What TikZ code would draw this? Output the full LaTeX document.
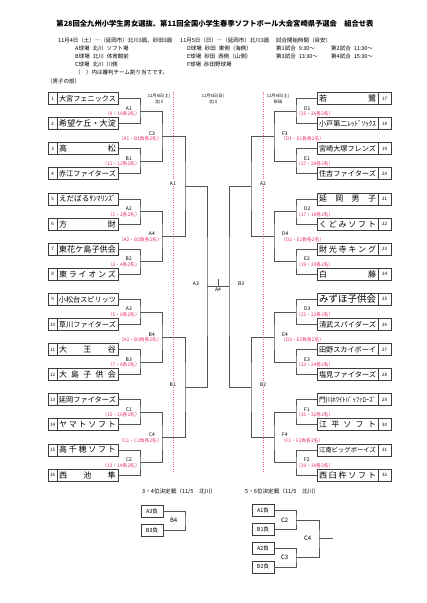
\documentclass[tikz,border=0pt]{standalone}
\usepackage{fontspec}
\setmainfont{Noto Sans CJK JP}
\usepackage{graphicx}
\usetikzlibrary{positioning}
\definecolor{ktRed}{RGB}{228,45,95}
\definecolor{ktDot}{RGB}{240,90,130}
\definecolor{ktGray}{RGB}{60,60,60}
\definecolor{ktLine}{RGB}{85,85,85}

\newcommand{\fitnm}[1]{\resizebox{57pt}{!}{#1}}
\newcommand{\spreadnm}[1]{\makebox[57pt][s]{#1}}
\newcommand{\gap}{\hspace{3pt}}

\begin{document}
\begin{tikzpicture}[
    x=1pt, y=-1pt,
    team/.style={rectangle, draw=ktGray, line width=0.8pt, minimum width=61pt, minimum height=12pt, inner sep=0pt, outer sep=0pt, font=\fontsize{8}{8}\selectfont},
    num/.style={rectangle, draw=ktGray, line width=0.8pt, minimum width=9pt, minimum height=12pt, inner sep=0pt, outer sep=0pt, font=\fontsize{4.5}{4.5}\selectfont},
    lose/.style={rectangle, draw=ktGray, line width=0.8pt, minimum width=22pt, minimum height=12pt, inner sep=0pt, outer sep=0pt, font=\fontsize{5.5}{5.5}\selectfont},
    link/.style={draw=ktLine, line width=0.7pt},
    sep/.style={draw=ktDot, line width=0.6pt, dash pattern=on 1pt off 1.4pt},
    mlbl/.style={inner sep=0pt, font=\fontsize{5}{5}\selectfont},
    rlbl/.style={inner sep=0pt, text=ktRed, font=\fontsize{4.8}{4.8}\selectfont},
    blbl/.style={inner sep=0pt, font=\fontsize{6}{6}\selectfont},
    info/.style={anchor=west, inner sep=0pt, font=\fontsize{5.5}{5.5}\selectfont},
    dlbl/.style={inner sep=0pt, font=\fontsize{4.2}{4.2}\selectfont}
]
  \useasboundingbox (0,0) rectangle (427,603);

  % heading
  \node[inner sep=0pt, font=\fontsize{7.3}{7.3}\selectfont\bfseries] (title) at (215,24) {第28回全九州小学生男女選抜、第11回全国小学生春季ソフトボール大会宮崎県予選会　組合せ表};
  \node[info] (i1) at (58,40) {11月4日（土）―（延岡市）北川3面、砂田3面};
  \node[info] (i2) at (180,40) {11月5日（日）―（延岡市）北川3面};
  \node[info] (i3) at (276,40) {試合開始時間（目安）};
  \node[info] (i4) at (75,48) {A球場\gap 北川\gap ソフト場};
  \node[info] (i5) at (187,48) {D球場\gap 砂田\gap 東側（海側）};
  \node[info] (i6) at (276,48) {第1試合\gap 9:30〜};
  \node[info] (i7) at (331,48) {第2試合\gap 11:30〜};
  \node[info] (i8) at (75,56) {B球場\gap 北川\gap 体育館前};
  \node[info] (i9) at (187,56) {E球場\gap 砂田\gap 西側（山側）};
  \node[info] (i10) at (276,56) {第3試合\gap 13:30〜};
  \node[info] (i11) at (331,56) {第4試合\gap 15:30〜};
  \node[info] (i12) at (75,64) {C球場\gap 北川\gap 川側};
  \node[info] (i13) at (187,64) {F球場\gap 砂田野球場};
  \node[info] (i14) at (75,72) {（　）内は審判チーム割り当てです。};
  \node[info] (i15) at (47,81) {（男子の部）};

  \node[dlbl] (d1) at (159,96) {11月4日(土)};
  \node[dlbl] (d1b) at (159,102) {北川};
  \node[dlbl] (d2) at (213,96) {11月5日(日)};
  \node[dlbl] (d2b) at (213,102) {北川};
  \node[dlbl] (d3) at (278,96) {11月4日(土)};
  \node[dlbl] (d3b) at (278,102) {砂田};

  \draw[sep] (173,92) -- (173,472);
  \draw[sep] (263,92) -- (263,472);

  % left teams
  \node[num] (n1) at (52.5,98.5) {1};   \node[team, right=0pt of n1] (t1) {\fitnm{大宮フェニックス}};
  \node[num] (n2) at (52.5,123.6) {2};  \node[team, right=0pt of n2] (t2) {\fitnm{希望ケ丘・大淀}};
  \node[num] (n3) at (52.5,148.7) {3};  \node[team, right=0pt of n3] (t3) {\spreadnm{高\hfill 松}};
  \node[num] (n4) at (52.5,173.8) {4};  \node[team, right=0pt of n4] (t4) {\fitnm{赤江ファイターズ}};
  \node[num] (n5) at (52.5,198.9) {5};  \node[team, right=0pt of n5] (t5) {\fitnm{えだばるｻﾝﾏﾘﾝｽﾞ}};
  \node[num] (n6) at (52.5,224.0) {6};  \node[team, right=0pt of n6] (t6) {\spreadnm{方\hfill 財}};
  \node[num] (n7) at (52.5,249.1) {7};  \node[team, right=0pt of n7] (t7) {\fitnm{東花ケ島子供会}};
  \node[num] (n8) at (52.5,274.2) {8};  \node[team, right=0pt of n8] (t8) {\spreadnm{東\hfill ラ\hfill イ\hfill オ\hfill ン\hfill ズ}};
  \node[num] (n9) at (52.5,299.3) {9};  \node[team, right=0pt of n9] (t9) {\fitnm{小松台スピリッツ}};
  \node[num] (n10) at (52.5,324.4) {10}; \node[team, right=0pt of n10] (t10) {\fitnm{草川ファイターズ}};
  \node[num] (n11) at (52.5,349.5) {11}; \node[team, right=0pt of n11] (t11) {\spreadnm{大\hfill 王\hfill 谷}};
  \node[num] (n12) at (52.5,374.6) {12}; \node[team, right=0pt of n12] (t12) {\spreadnm{大\hfill 島\hfill 子\hfill 供\hfill 会}};
  \node[num] (n13) at (52.5,399.7) {13}; \node[team, right=0pt of n13] (t13) {\fitnm{延岡ファイターズ}};
  \node[num] (n14) at (52.5,424.8) {14}; \node[team, right=0pt of n14] (t14) {\spreadnm{ヤ\hfill マ\hfill ト\hfill ソ\hfill フ\hfill ト}};
  \node[num] (n15) at (52.5,449.9) {15}; \node[team, right=0pt of n15] (t15) {\spreadnm{高\hfill 千\hfill 穂\hfill ソ\hfill フ\hfill ト}};
  \node[num] (n16) at (52.5,475.0) {16}; \node[team, right=0pt of n16] (t16) {\spreadnm{西\hfill 池\hfill 隼}};

  % right teams
  \node[team] (t17) at (347.5,98.5) {\spreadnm{若\hfill 鷺}};                      \node[num, minimum width=13pt, right=0pt of t17] (n17) {17};
  \node[team] (t18) at (347.5,123.6) {\fitnm{小戸第二ﾚｯﾄﾞｿｯｸｽ}};                   \node[num, minimum width=13pt, right=0pt of t18] (n18) {18};
  \node[team] (t19) at (347.5,148.7) {\fitnm{宮崎大塚フレンズ}};                     \node[num, minimum width=13pt, right=0pt of t19] (n19) {19};
  \node[team] (t20) at (347.5,173.8) {\fitnm{住吉ファイターズ}};                     \node[num, minimum width=13pt, right=0pt of t20] (n20) {20};
  \node[team] (t21) at (347.5,198.9) {\spreadnm{延\hfill 岡\hfill 男\hfill 子}};    \node[num, minimum width=13pt, right=0pt of t21] (n21) {21};
  \node[team] (t22) at (347.5,224.0) {\spreadnm{く\hfill ど\hfill み\hfill ソ\hfill フ\hfill ト}}; \node[num, minimum width=13pt, right=0pt of t22] (n22) {22};
  \node[team] (t23) at (347.5,249.1) {\spreadnm{財\hfill 光\hfill 寺\hfill キ\hfill ン\hfill グ}}; \node[num, minimum width=13pt, right=0pt of t23] (n23) {23};
  \node[team] (t24) at (347.5,274.2) {\spreadnm{白\hfill 藤}};                      \node[num, minimum width=13pt, right=0pt of t24] (n24) {24};
  \node[team] (t25) at (347.5,299.3) {\fitnm{みずほ子供会}};                         \node[num, minimum width=13pt, right=0pt of t25] (n25) {25};
  \node[team] (t26) at (347.5,324.4) {\fitnm{清武スパイダーズ}};                     \node[num, minimum width=13pt, right=0pt of t26] (n26) {26};
  \node[team] (t27) at (347.5,349.5) {\fitnm{田野スカイボーイ}};                     \node[num, minimum width=13pt, right=0pt of t27] (n27) {27};
  \node[team] (t28) at (347.5,374.6) {\fitnm{塩見ファイターズ}};                     \node[num, minimum width=13pt, right=0pt of t28] (n28) {28};
  \node[team] (t29) at (347.5,399.7) {\fitnm{門川ﾎﾜｲﾄﾊﾞｯﾌｧﾛｰｽﾞ}};                  \node[num, minimum width=13pt, right=0pt of t29] (n29) {29};
  \node[team] (t30) at (347.5,424.8) {\spreadnm{江\hfill 平\hfill ソ\hfill フ\hfill ト}}; \node[num, minimum width=13pt, right=0pt of t30] (n30) {30};
  \node[team] (t31) at (347.5,449.9) {\fitnm{江南ビッグボーイズ}};                   \node[num, minimum width=13pt, right=0pt of t31] (n31) {31};
  \node[team] (t32) at (347.5,475.0) {\spreadnm{西\hfill 臼\hfill 杵\hfill ソ\hfill フ\hfill ト}}; \node[num, minimum width=13pt, right=0pt of t32] (n32) {32};

  % match points
  \coordinate (l11) at (140,111.05);  \coordinate (l12) at (140,161.25);
  \coordinate (l13) at (140,211.45);  \coordinate (l14) at (140,261.65);
  \coordinate (l15) at (140,311.85);  \coordinate (l16) at (140,362.05);
  \coordinate (l17) at (140,412.25);  \coordinate (l18) at (140,462.45);
  \coordinate (l21) at (162,136.15);  \coordinate (l22) at (162,236.55);
  \coordinate (l23) at (162,336.95);  \coordinate (l24) at (162,437.35);
  \coordinate (l31) at (185,186.35);  \coordinate (l32) at (185,387.15);
  \coordinate (r11) at (296,111.05);  \coordinate (r12) at (296,161.25);
  \coordinate (r13) at (296,211.45);  \coordinate (r14) at (296,261.65);
  \coordinate (r15) at (296,311.85);  \coordinate (r16) at (296,362.05);
  \coordinate (r17) at (296,412.25);  \coordinate (r18) at (296,462.45);
  \coordinate (r21) at (274,136.15);  \coordinate (r22) at (274,236.55);
  \coordinate (r23) at (274,336.95);  \coordinate (r24) at (274,437.35);
  \coordinate (r31) at (251,186.35);  \coordinate (r32) at (251,387.15);
  \coordinate (c31) at (207,286.75);  \coordinate (c32) at (229,286.75);
  \coordinate (fin) at (218,286.75);  \coordinate (fintop) at (218,279);

  % bracket lines
  \draw[link] (t1.east) -| (l11) |- (t2.east);
  \draw[link] (t3.east) -| (l12) |- (t4.east);
  \draw[link] (t5.east) -| (l13) |- (t6.east);
  \draw[link] (t7.east) -| (l14) |- (t8.east);
  \draw[link] (t9.east) -| (l15) |- (t10.east);
  \draw[link] (t11.east) -| (l16) |- (t12.east);
  \draw[link] (t13.east) -| (l17) |- (t14.east);
  \draw[link] (t15.east) -| (l18) |- (t16.east);
  \draw[link] (l11) -| (l21) |- (l12);
  \draw[link] (l13) -| (l22) |- (l14);
  \draw[link] (l15) -| (l23) |- (l16);
  \draw[link] (l17) -| (l24) |- (l18);
  \draw[link] (l21) -| (l31) |- (l22);
  \draw[link] (l23) -| (l32) |- (l24);
  \draw[link] (t17.west) -| (r11) |- (t18.west);
  \draw[link] (t19.west) -| (r12) |- (t20.west);
  \draw[link] (t21.west) -| (r13) |- (t22.west);
  \draw[link] (t23.west) -| (r14) |- (t24.west);
  \draw[link] (t25.west) -| (r15) |- (t26.west);
  \draw[link] (t27.west) -| (r16) |- (t28.west);
  \draw[link] (t29.west) -| (r17) |- (t30.west);
  \draw[link] (t31.west) -| (r18) |- (t32.west);
  \draw[link] (r11) -| (r21) |- (r12);
  \draw[link] (r13) -| (r22) |- (r14);
  \draw[link] (r15) -| (r23) |- (r16);
  \draw[link] (r17) -| (r24) |- (r18);
  \draw[link] (r21) -| (r31) |- (r22);
  \draw[link] (r23) -| (r32) |- (r24);
  \draw[link] (l31) -| (c31) |- (l32);
  \draw[link] (r31) -| (c32) |- (r32);
  \draw[link] (c31) -- (c32);
  \draw[link] (fintop) -- (fin);

  % left labels
  \node[mlbl, above left=0.6pt and 8pt of l11] (ml11) {A1};
  \node[rlbl, below left=0.4pt and 0pt of l11] (rl11) {（9・10各2名）};
  \node[mlbl, above left=0.6pt and 8pt of l12] (ml12) {B1};
  \node[rlbl, below left=0.4pt and 0pt of l12] (rl12) {（11・12各2名）};
  \node[mlbl, above left=0.6pt and 8pt of l13] (ml13) {A2};
  \node[rlbl, below left=0.4pt and 0pt of l13] (rl13) {（1・2各2名）};
  \node[mlbl, above left=0.6pt and 8pt of l14] (ml14) {B2};
  \node[rlbl, below left=0.4pt and 0pt of l14] (rl14) {（3・4各2名）};
  \node[mlbl, above left=0.6pt and 8pt of l15] (ml15) {A3};
  \node[rlbl, below left=0.4pt and 0pt of l15] (rl15) {（5・6各2名）};
  \node[mlbl, above left=0.6pt and 8pt of l16] (ml16) {B3};
  \node[rlbl, below left=0.4pt and 0pt of l16] (rl16) {（7・8各2名）};
  \node[mlbl, above left=0.6pt and 8pt of l17] (ml17) {C1};
  \node[rlbl, below left=0.4pt and 0pt of l17] (rl17) {（15・16各2名）};
  \node[mlbl, above left=0.6pt and 8pt of l18] (ml18) {C2};
  \node[rlbl, below left=0.4pt and 0pt of l18] (rl18) {（13・14各2名）};
  \node[mlbl, above left=0.6pt and 7pt of l21] (ml21) {C3};
  \node[rlbl, below left=0.4pt and 0pt of l21] (rl21) {（A1・B1負各2名）};
  \node[mlbl, above left=0.6pt and 7pt of l22] (ml22) {A4};
  \node[rlbl, below left=0.4pt and 0pt of l22] (rl22) {（A2・B2負各2名）};
  \node[mlbl, above left=0.6pt and 7pt of l23] (ml23) {B4};
  \node[rlbl, below left=0.4pt and 0pt of l23] (rl23) {（A3・B3負各2名）};
  \node[mlbl, above left=0.6pt and 7pt of l24] (ml24) {C4};
  \node[rlbl, below left=0.4pt and 0pt of l24] (rl24) {（C1・C2負各2名）};
  \node[mlbl, fill=white, inner sep=0.5pt, above left=0.3pt and 8.5pt of l31] (ml31) {A1};
  \node[mlbl, fill=white, inner sep=0.5pt, above left=0.3pt and 8.5pt of l32] (ml32) {B1};

  % right labels
  \node[mlbl, above right=0.6pt and 8pt of r11] (mr11) {D1};
  \node[rlbl, below right=0.4pt and 0pt of r11] (rr11) {（25・26各2名）};
  \node[mlbl, above right=0.6pt and 8pt of r12] (mr12) {E1};
  \node[rlbl, below right=0.4pt and 0pt of r12] (rr12) {（27・28各2名）};
  \node[mlbl, above right=0.6pt and 8pt of r13] (mr13) {D2};
  \node[rlbl, below right=0.4pt and 0pt of r13] (rr13) {（17・18各2名）};
  \node[mlbl, above right=0.6pt and 8pt of r14] (mr14) {E2};
  \node[rlbl, below right=0.4pt and 0pt of r14] (rr14) {（19・20各2名）};
  \node[mlbl, above right=0.6pt and 8pt of r15] (mr15) {D3};
  \node[rlbl, below right=0.4pt and 0pt of r15] (rr15) {（21・22各2名）};
  \node[mlbl, above right=0.6pt and 8pt of r16] (mr16) {E3};
  \node[rlbl, below right=0.4pt and 0pt of r16] (rr16) {（23・24各2名）};
  \node[mlbl, above right=0.6pt and 8pt of r17] (mr17) {F1};
  \node[rlbl, below right=0.4pt and 0pt of r17] (rr17) {（31・32各2名）};
  \node[mlbl, above right=0.6pt and 8pt of r18] (mr18) {F2};
  \node[rlbl, below right=0.4pt and 0pt of r18] (rr18) {（29・30各2名）};
  \node[mlbl, above right=0.6pt and 8pt of r21] (mr21) {F3};
  \node[rlbl, below right=0.4pt and 7pt of r21] (rr21) {（D1・E1負各2名）};
  \node[mlbl, above right=0.6pt and 8pt of r22] (mr22) {D4};
  \node[rlbl, below right=0.4pt and 7pt of r22] (rr22) {（D2・E2負各2名）};
  \node[mlbl, above right=0.6pt and 8pt of r23] (mr23) {E4};
  \node[rlbl, below right=0.4pt and 7pt of r23] (rr23) {（D3・E3負各2名）};
  \node[mlbl, above right=0.6pt and 8pt of r24] (mr24) {F4};
  \node[rlbl, below right=0.4pt and 7pt of r24] (rr24) {（F1・F2負各2名）};
  \node[mlbl, fill=white, inner sep=0.5pt, above right=0.3pt and 8.5pt of r31] (mr31) {A2};
  \node[mlbl, fill=white, inner sep=0.5pt, above right=0.3pt and 8.5pt of r32] (mr32) {B2};

  % center
  \node[mlbl, above left=0.6pt and 8pt of c31] (mc31) {A3};
  \node[mlbl, above right=0.6pt and 9pt of c32] (mc32) {B3};
  \node[mlbl, below=1.2pt of fin] (mfin) {A4};

  % placing matches
  \node[info, font=\fontsize{5.6}{5.6}\selectfont] (h34) at (142,492) {3・4位決定戦（11/5　北川）};
  \node[info, font=\fontsize{5.6}{5.6}\selectfont] (h56) at (245,492) {5・6位決定戦（11/5　北川）};

  \node[lose] (a3l) at (152,511.5) {A3負};
  \node[lose] (b3l) at (152,530) {B3負};
  \coordinate (p34) at (185,520.75);
  \draw[link] (a3l) -| (p34) |- (b3l);
  \node[blbl, left=7.5pt of p34] (m34) {B4};

  \node[lose] (a1l) at (263,510.5) {A1負};
  \node[lose] (b1l) at (263,529.3) {B1負};
  \node[lose] (a2l) at (263,548.1) {A2負};
  \node[lose] (b2l) at (263,566.9) {B2負};
  \coordinate (p56a) at (296,519.9);
  \coordinate (p56b) at (296,557.5);
  \coordinate (p56) at (319,538.7);
  \coordinate (p56end) at (333,538.7);
  \draw[link] (a1l) -| (p56a) |- (b1l);
  \draw[link] (a2l) -| (p56b) |- (b2l);
  \draw[link] (p56a) -| (p56) |- (p56b);
  \draw[link] (p56) -- (p56end);
  \node[blbl, left=7.5pt of p56a] (m56a) {C2};
  \node[blbl, left=7.5pt of p56b] (m56b) {C3};
  \node[blbl, left=7.5pt of p56] (m56) {C4};
\end{tikzpicture}
\end{document}
